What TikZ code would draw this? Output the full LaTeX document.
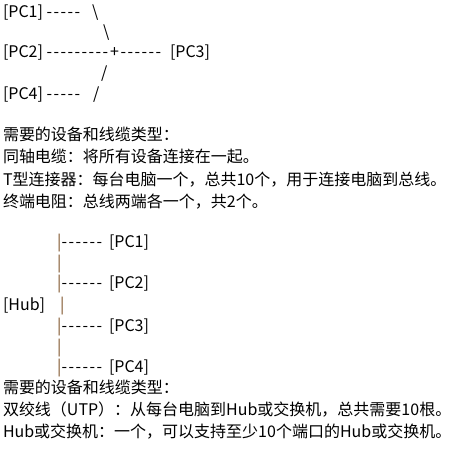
\documentclass[tikz,border=0pt]{standalone}
\usepackage{fontspec}
\setmainfont{Noto Sans CJK SC}
\usetikzlibrary{positioning}
\definecolor{barbrown}{RGB}{125,82,40}
% one hyphen per fixed cell, so that no dash ligature forms
\newcommand\dashrun[1]{\foreach \k in {1,...,#1}{\makebox[7pt]{-}}}

\begin{document}
\begin{tikzpicture}[
    x=1pt, y=-1pt,
    font=\fontsize{16}{19}\selectfont,
    txt/.style={anchor=base west, inner sep=0pt, outer sep=0pt},
    pc/.style={txt},
    wire/.style={txt},
    bar/.style={txt, text=barbrown},
  ]
  \useasboundingbox (0,0) rectangle (469,462);

  % ---------------- Bus topology ----------------
  \node[pc]   (busPCa)  at (3,18)   {[PC1]};
  \node[wire] (busWa)   at (46,18)  {\dashrun{5}};
  \node[wire] (busSa)   at (92,18)  {\textbackslash};
  \node[wire] (busSb)   at (103,38) {\textbackslash};
  \node[pc]   (busPCb)  at (3,58)   {[PC2]};
  \node[wire] (busWb)   at (46,58)  {\dashrun{9}};
  \node[wire] (busTee)  at (110,58) {+};
  \node[wire] (busWc)   at (120,58) {\dashrun{6}};
  \node[pc]   (busPCc)  at (170,58) {[PC3]};
  \node[wire] (busSc)   at (101,79) {/};
  \node[pc]   (busPCd)  at (3,100)  {[PC4]};
  \node[wire] (busWd)   at (46,100) {\dashrun{5}};
  \node[wire] (busSd)   at (93,100) {/};

  % ---------------- Bus parts list ----------------
  \node[txt] (busHead) at (3,141) {需要的设备和线缆类型：};
  \node[txt] (busCoax) at (3,163) {同轴电缆：将所有设备连接在一起。};
  \node[txt] (busTcon) at (3,186) {T型连接器：每台电脑一个，总共10个，用于连接电脑到总线。};
  \node[txt] (busTerm) at (3,208) {终端电阻：总线两端各一个，共2个。};

  % ---------------- Star topology ----------------
  \node[bar]  (starBa)  at (57,248) {|};
  \node[wire] (starWa)  at (61,248) {\dashrun{6}};
  \node[pc]   (starPCa) at (109,248) {[PC1]};
  \node[bar]  (starBb)  at (57,269) {|};
  \node[bar]  (starBc)  at (57,289) {|};
  \node[wire] (starWb)  at (61,289) {\dashrun{6}};
  \node[pc]   (starPCb) at (109,289) {[PC2]};
  \node[pc]   (hub)     at (3,311)  {[Hub]};
  \node[bar]  (starBd)  at (60,311) {|};
  \node[bar]  (starBe)  at (57,332) {|};
  \node[wire] (starWc)  at (61,332) {\dashrun{6}};
  \node[pc]   (starPCc) at (109,332) {[PC3]};
  \node[bar]  (starBf)  at (57,353) {|};
  \node[bar]  (starBg)  at (57,373) {|};
  \node[wire] (starWd)  at (61,373) {\dashrun{6}};
  \node[pc]   (starPCd) at (109,373) {[PC4]};

  % ---------------- Star parts list ----------------
  \node[txt] (starHead) at (3,394) {需要的设备和线缆类型：};
  \node[txt] (starUtp)  at (3,416) {双绞线（UTP）：从每台电脑到Hub或交换机，总共需要10根。};
  \node[txt] (starHub)  at (3,438) {Hub或交换机：一个，可以支持至少10个端口的Hub或交换机。};
\end{tikzpicture}
\end{document}
